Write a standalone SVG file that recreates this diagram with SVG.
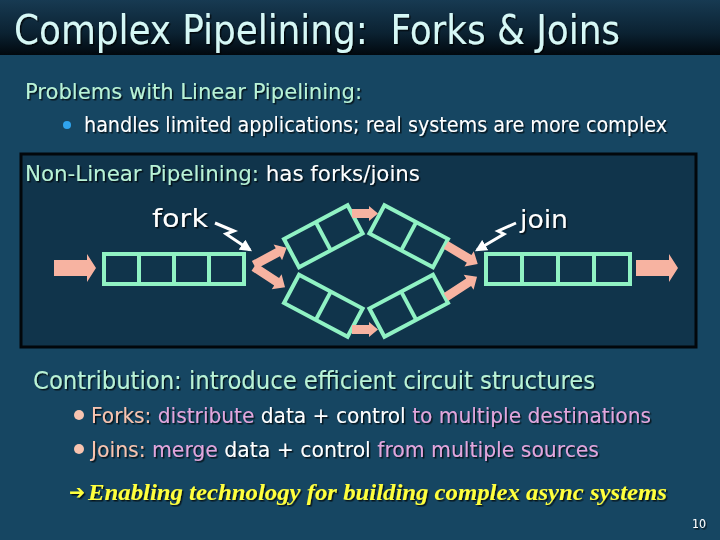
<svg xmlns="http://www.w3.org/2000/svg" xmlns:xlink="http://www.w3.org/1999/xlink" width="720" height="540" viewBox="0 0 720 540">
<defs>
<linearGradient id="tbar" x1="0" y1="0" x2="0" y2="1">
<stop offset="0" stop-color="#173a52"/>
<stop offset="0.6" stop-color="#0b2232"/>
<stop offset="1" stop-color="#01080e"/>
</linearGradient>
<filter id="sh" x="-5%" y="-20%" width="110%" height="150%">
<feDropShadow dx="1.5" dy="1.5" stdDeviation="0.6" flood-color="#000" flood-opacity="0.7"/>
</filter>
<marker id="wh" viewBox="0 0 10 10" refX="8" refY="5" markerWidth="4" markerHeight="4" orient="auto" markerUnits="strokeWidth">
<path d="M0,0 L10,5 L0,10 z" fill="#ffffff"/>
</marker>
<g id="st2">
<rect x="0" y="0" width="72" height="32" class="stg"/>
<line x1="36" y1="0" x2="36" y2="32" class="stg"/>
</g>
</defs>
<style>
.stg{fill:none;stroke:#90f2c4;stroke-width:4}
.arr{fill:#f7b3a1}
.lt{fill:none;stroke:#ffffff;stroke-width:3;stroke-linejoin:miter}
.sans{font-family:"DejaVu Sans Condensed","DejaVu Sans",sans-serif}
.grn{fill:#b9f3d6}
.wht{fill:#ffffff}
.pnk{fill:#e3a6dd}
.sal{fill:#f8c4b0}
.t{filter:url(#sh)}
</style>
<rect x="0" y="0" width="720" height="540" fill="#164662"/>
<rect x="0" y="0" width="720" height="55" fill="url(#tbar)"/>
<text class="sans t" x="14" y="44" font-size="40" fill="#d6f8f6" textLength="606" lengthAdjust="spacingAndGlyphs" xml:space="preserve">Complex Pipelining:  Forks &amp; Joins</text>

<text class="sans t grn" x="25" y="99" font-size="21" textLength="337" lengthAdjust="spacingAndGlyphs">Problems with Linear Pipelining:</text>
<circle cx="67" cy="125" r="4" fill="#2fa4ee"/>
<text class="sans t wht" x="84" y="132" font-size="21" textLength="583" lengthAdjust="spacingAndGlyphs">handles limited applications; real systems are more complex</text>

<rect x="21" y="154" width="675" height="193" fill="#10344b" stroke="#02070b" stroke-width="3"/>
<text class="sans t" x="25" y="181" font-size="21" textLength="395" lengthAdjust="spacingAndGlyphs"><tspan class="grn">Non-Linear Pipelining:</tspan><tspan class="wht"> has forks/joins</tspan></text>

<g id="stage-in">
<rect x="104" y="254" width="140" height="30" class="stg"/>
<line x1="139" y1="254" x2="139" y2="284" class="stg"/>
<line x1="174" y1="254" x2="174" y2="284" class="stg"/>
<line x1="209" y1="254" x2="209" y2="284" class="stg"/>
</g>
<g id="stage-out">
<rect x="486" y="254" width="144" height="30" class="stg"/>
<line x1="522" y1="254" x2="522" y2="284" class="stg"/>
<line x1="558" y1="254" x2="558" y2="284" class="stg"/>
<line x1="594" y1="254" x2="594" y2="284" class="stg"/>
</g>
<g id="stage-upper-left"><use xlink:href="#st2" transform="translate(284,239) rotate(-28)"/></g>
<g id="stage-upper-right"><use xlink:href="#st2" transform="translate(732,0) scale(-1,1) translate(284,239) rotate(-28)"/></g>
<g id="stage-lower-left"><use xlink:href="#st2" transform="translate(0,542) scale(1,-1) translate(284,239) rotate(-28)"/></g>
<g id="stage-lower-right"><use xlink:href="#st2" transform="translate(732,542) scale(-1,-1) translate(284,239) rotate(-28)"/></g>

<g id="connectors">
<polygon class="arr" transform="translate(54,268)" points="0,-8 33,-8 33,-14 42,0 33,14 33,8 0,8"/>
<polygon class="arr" transform="translate(636,268)" points="0,-8 33,-8 33,-14 42,0 33,14 33,8 0,8"/>
<polygon class="arr" transform="translate(254,265) rotate(-28)" points="0,-4.5 27,-4.5 27,-9 37,0 27,9 27,4.5 0,4.5"/>
<polygon class="arr" transform="translate(254,267) rotate(33)" points="0,-4.5 27,-4.5 27,-9 37,0 27,9 27,4.5 0,4.5"/>
<polygon class="arr" transform="translate(352,213.5)" points="0,-4.5 17,-4.5 17,-7.5 26,0 17,7.5 17,4.5 0,4.5"/>
<polygon class="arr" transform="translate(352,329.5)" points="0,-4.5 17,-4.5 17,-7.5 26,0 17,7.5 17,4.5 0,4.5"/>
<polygon class="arr" transform="translate(446,245) rotate(31)" points="0,-4.5 27,-4.5 27,-9 37,0 27,9 27,4.5 0,4.5"/>
<polygon class="arr" transform="translate(446,297) rotate(-33)" points="0,-4.5 27,-4.5 27,-9 37,0 27,9 27,4.5 0,4.5"/>
<polyline class="lt" points="215,223 234,231 226,234 250,250" marker-end="url(#wh)"/>
<polyline class="lt" points="516,223 498,231 504,234 477,250" marker-end="url(#wh)"/>
</g>
<text class="t wht" x="152" y="227" font-family="DejaVu Sans, sans-serif" font-size="24" textLength="56" lengthAdjust="spacingAndGlyphs">fork</text>
<text class="t wht" x="520" y="228" font-family="DejaVu Sans, sans-serif" font-size="24" textLength="48" lengthAdjust="spacingAndGlyphs">join</text>

<text class="sans t grn" x="33" y="389" font-size="24" textLength="562" lengthAdjust="spacingAndGlyphs">Contribution: introduce efficient circuit structures</text>
<circle cx="79" cy="415" r="5" fill="#f8c4b0"/>
<text class="sans t" x="91" y="423" font-size="22" textLength="560" lengthAdjust="spacingAndGlyphs"><tspan class="sal">Forks:</tspan><tspan class="pnk"> distribute</tspan><tspan class="wht"> data + control</tspan><tspan class="pnk"> to multiple destinations</tspan></text>
<circle cx="79" cy="449" r="5" fill="#f8c4b0"/>
<text class="sans t" x="91" y="457" font-size="22" textLength="508" lengthAdjust="spacingAndGlyphs"><tspan class="sal">Joins:</tspan><tspan class="pnk"> merge</tspan><tspan class="wht"> data + control</tspan><tspan class="pnk"> from multiple sources</tspan></text>

<text class="t" x="69" y="499" font-family="DejaVu Sans, sans-serif" font-size="20" fill="#ffff3c" textLength="16" lengthAdjust="spacingAndGlyphs">➔</text>
<text class="t" x="88" y="500" font-family="Liberation Serif, serif" font-style="italic" font-weight="bold" font-size="24" fill="#ffff3c" textLength="579" lengthAdjust="spacingAndGlyphs">Enabling technology for building complex async systems</text>
<text class="t wht" x="692" y="528" font-family="DejaVu Sans Condensed, DejaVu Sans, sans-serif" font-size="13" textLength="14" lengthAdjust="spacingAndGlyphs">10</text>
</svg>
